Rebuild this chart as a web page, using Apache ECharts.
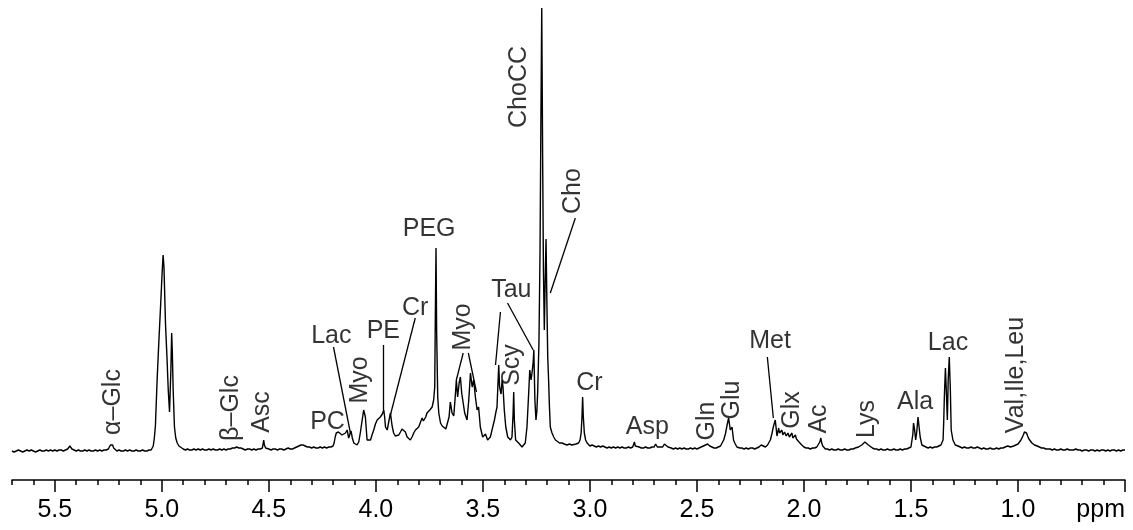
<!DOCTYPE html>
<html>
<head>
<meta charset="utf-8">
<script src="https://cdn.jsdelivr.net/npm/echarts@6/dist/echarts.min.js"></script>
<style>html,body{margin:0;padding:0;background:#fff}#c{width:1133px;height:530px}</style>
</head>
<body>
<div id="c"></div>
<script>
// ---- data: [ppm, intensity above baseline] ----
const spectrum = [
[5.70,1],[5.69,0],[5.68,1],[5.67,2],[5.66,1],[5.65,0],[5.64,1],[5.63,2],[5.62,1],[5.61,2],[5.60,1],[5.59,0],[5.58,1],[5.57,2],[5.56,1],[5.55,1],[5.54,2],[5.53,1],[5.52,2],[5.51,1],[5.50,2],[5.49,1],[5.48,2],[5.47,2],[5.46,1],[5.45,2],[5.44,3],[5.435,5],[5.43,6],[5.425,5],[5.42,3],[5.41,2],[5.40,1],[5.39,2],[5.38,1],[5.37,1],[5.36,2],[5.35,1],[5.34,2],[5.33,1],[5.32,1],[5.31,2],[5.30,1],[5.29,2],[5.28,1],[5.27,2],[5.26,2],[5.25,3],[5.245,5],[5.24,7],[5.235,5],[5.23,7],[5.225,4],[5.22,2],[5.21,1],[5.20,2],[5.19,1],[5.18,1],[5.17,2],[5.16,1],[5.15,2],[5.14,1],[5.13,1],[5.12,2],[5.11,1],[5.10,1],[5.09,2],[5.08,1],[5.07,1],[5.06,2],[5.05,2],[5.045,4],[5.04,6],[5.035,14],[5.03,26],[5.022,72],[5.014,110],[5.006,145],[4.998,182],[4.994,197],[4.990,185],[4.983,129],[4.976,95],[4.970,62],[4.964,40],[4.958,80],[4.954,119],[4.951,100],[4.947,62],[4.941,25],[4.935,14],[4.928,9],[4.92,6],[4.913,4],[4.90,3],[4.89,2],[4.88,3],[4.87,2],
[4.86,2],[4.85,3],[4.84,2],[4.83,3],[4.82,2],[4.81,3],[4.80,2],[4.79,2],[4.78,3],[4.77,2],[4.76,3],[4.75,2],[4.74,2],[4.73,3],[4.72,2],[4.71,3],[4.70,2],[4.69,3],[4.68,3],[4.67,4],[4.665,6],[4.66,4],[4.655,6],[4.65,5],[4.645,7],[4.64,4],[4.635,3],[4.63,4],[4.62,3],[4.61,2],[4.60,3],[4.59,3],[4.58,2],[4.57,3],[4.56,2],[4.55,3],[4.54,3],[4.53,4],[4.527,8],[4.524,12],[4.521,7],[4.515,4],[4.51,3],[4.50,3],[4.49,2],[4.48,3],[4.47,3],[4.46,2],[4.45,3],[4.44,3],[4.43,2],[4.42,3],[4.41,4],[4.40,3],[4.39,3],[4.38,4],[4.37,5],[4.36,6],[4.35,7],[4.34,7],[4.33,6],[4.32,5],[4.31,5],[4.30,4],[4.29,5],[4.28,4],[4.27,4],[4.26,5],[4.25,4],[4.24,5],[4.23,4],[4.22,5],[4.21,5],[4.20,6],[4.195,9],[4.19,15],[4.185,19],[4.181,21],[4.175,20],[4.166,22],[4.158,17],[4.150,16],[4.142,19],[4.134,22],[4.127,14],[4.121,18],[4.116,21],[4.110,14],[4.103,9],[4.095,8],[4.088,7],[4.080,10],[4.072,20],[4.064,32],[4.057,42],[4.049,35],[4.041,12],[4.033,10],[4.025,12],[4.018,17],[4.010,22],[4.002,28],[3.994,32],[3.986,34],[3.979,35],[3.970,38],[3.963,42],[3.959,35],[3.955,25],[3.947,22],[3.940,30],[3.932,39],[3.924,26],[3.917,19],[3.909,16],[3.901,14],[3.893,17],[3.885,20],[3.878,23],[3.870,24],[3.862,20],[3.854,15],[3.846,13],[3.839,12],[3.831,15],[3.823,19],[3.815,22],[3.807,24],[3.800,25],[3.792,27],[3.784,34],[3.778,31],[3.773,29],[3.767,35],[3.761,39],[3.755,40],[3.748,42],[3.742,44],[3.737,45],[3.730,52],[3.725,65],[3.722,140],[3.719,204],[3.716,120],[3.711,55],[3.706,39],[3.698,29],[3.690,26],[3.683,24],[3.673,23],[3.664,22],[3.658,35],[3.652,50],[3.644,39],[3.636,36],[3.628,59],[3.624,72],[3.618,55],[3.611,69],[3.605,75],[3.599,59],[3.592,49],[3.585,39],[3.574,32],[3.566,52],[3.558,79],[3.550,65],[3.543,72],[3.535,55],[3.527,42],[3.520,45],[3.512,25],[3.501,15],[3.488,18],[3.478,12],[3.465,15],[3.454,25],[3.446,32],[3.440,39],[3.434,45],[3.426,87],[3.422,65],[3.415,58],[3.410,72],[3.406,65],[3.400,42],[3.393,25],[3.384,15],[3.371,12],[3.364,15],[3.359,38],[3.356,60],[3.353,32],[3.347,12],[3.340,10],[3.333,9],[3.325,7],[3.317,5],[3.310,7],[3.302,9],[3.294,25],[3.286,59],[3.281,82],[3.275,72],[3.270,80],[3.265,90],[3.262,102],[3.257,52],[3.252,32],[3.248,40],[3.244,60],[3.238,110],[3.233,200],[3.229,330],[3.225,444],[3.221,300],[3.217,180],[3.213,122],[3.209,170],[3.205,213],[3.201,150],[3.197,95],[3.193,72],[3.189,45],[3.185,25],[3.177,19],[3.169,15],[3.161,12],[3.153,10],[3.142,9],[3.130,9],[3.120,8],[3.107,7],[3.095,8],[3.085,7],[3.076,7],[3.065,8],[3.053,9],[3.046,12],[3.041,19],[3.037,35],[3.034,55],[3.031,36],[3.026,19],[3.020,12],[3.013,9],[3.005,7],[3.00,6],
[2.99,7],[2.98,6],[2.97,5],[2.96,6],[2.95,5],[2.94,6],[2.93,5],[2.92,4],[2.91,5],[2.90,4],[2.89,5],[2.88,4],[2.87,5],[2.86,4],[2.85,5],[2.84,4],[2.83,4],[2.82,5],[2.81,4],[2.80,5],[2.795,7],[2.792,10],[2.788,6],[2.78,4],[2.77,5],[2.76,4],[2.75,4],[2.74,5],[2.73,4],[2.72,4],[2.71,5],[2.70,5],[2.693,8],[2.689,9],[2.685,5],[2.68,4],[2.67,5],[2.66,5],[2.652,8],[2.648,9],[2.643,6],[2.635,5],[2.62,4],[2.61,3],[2.60,4],[2.59,3],[2.58,4],[2.57,3],[2.56,4],[2.55,3],[2.54,3],[2.53,4],[2.52,3],[2.51,4],[2.50,3],[2.49,4],[2.48,5],[2.47,6],[2.46,7],[2.455,6],[2.45,8],[2.44,6],[2.43,5],[2.42,4],[2.41,4],[2.40,5],[2.39,6],[2.383,8],[2.375,12],[2.367,18],[2.359,27],[2.352,34],[2.348,28],[2.344,22],[2.340,24],[2.336,25],[2.329,12],[2.321,8],[2.313,5],[2.30,4],[2.29,4],[2.28,3],[2.27,4],[2.26,3],[2.25,4],[2.24,4],[2.23,3],[2.22,4],[2.21,5],[2.20,7],[2.196,9],[2.19,6],[2.18,5],[2.17,7],[2.164,9],[2.157,12],[2.150,18],[2.142,26],[2.134,32],[2.130,24],[2.126,16],[2.122,20],[2.118,24],[2.114,19],[2.110,17],[2.106,21],[2.103,22],[2.099,17],[2.095,16],[2.091,20],[2.087,21],[2.083,16],[2.079,15],[2.075,19],[2.072,20],[2.068,15],[2.064,14],[2.060,17],[2.056,19],[2.052,14],[2.048,13],[2.044,15],[2.040,17],[2.035,13],[2.029,12],[2.023,10],[2.017,9],[2.010,7],[2.00,5],[1.99,4],[1.98,4],[1.97,3],[1.96,4],[1.95,4],[1.94,5],[1.932,7],[1.926,10],[1.921,14],[1.917,9],[1.912,6],[1.905,4],[1.90,3],
[1.89,3],[1.88,2],[1.87,3],[1.86,2],[1.85,2],[1.84,3],[1.83,2],[1.82,2],[1.81,3],[1.80,2],[1.79,2],[1.78,3],[1.77,3],[1.76,4],[1.753,4],[1.745,5],[1.738,6],[1.730,7],[1.722,9],[1.715,10],[1.707,9],[1.699,7],[1.69,5],[1.68,4],[1.67,3],[1.66,3],[1.65,2],[1.64,3],[1.63,2],[1.62,2],[1.61,3],[1.60,2],[1.59,2],[1.58,3],[1.57,2],[1.56,2],[1.55,3],[1.54,2],[1.53,3],[1.52,3],[1.51,4],[1.50,5],[1.494,7],[1.491,18],[1.488,29],[1.484,24],[1.478,12],[1.473,20],[1.467,35],[1.462,25],[1.457,15],[1.449,7],[1.44,5],[1.43,5],[1.42,4],[1.41,5],[1.40,4],[1.39,5],[1.38,5],[1.37,6],[1.360,7],[1.350,12],[1.347,30],[1.344,55],[1.339,84],[1.335,62],[1.330,32],[1.326,72],[1.321,95],[1.316,62],[1.312,22],[1.304,12],[1.293,7],[1.28,6],[1.270,5],[1.26,4],[1.25,5],[1.24,4],[1.23,4],[1.22,5],[1.21,4],[1.20,4],[1.19,5],[1.18,4],[1.17,3],[1.16,4],[1.15,3],[1.14,3],[1.13,4],[1.12,3],[1.11,3],[1.10,4],[1.09,3],[1.08,4],[1.07,4],[1.06,5],[1.055,5],[1.048,6],[1.041,7],[1.035,5],[1.028,5],[1.020,6],[1.010,7],[1.000,8],[0.994,9],[0.986,12],[0.980,14],[0.975,17],[0.970,20],[0.965,22],[0.960,19],[0.955,16],[0.949,13],[0.943,11],[0.935,9],[0.923,7],[0.91,6],[0.90,5],[0.89,4],[0.88,4],[0.87,3],[0.86,3],[0.85,3],[0.84,2],[0.83,3],[0.82,2],[0.81,2],[0.80,3],[0.79,2],[0.78,2],[0.77,3],[0.76,2],[0.75,2],[0.74,2],[0.73,3],[0.72,2],[0.71,2],[0.70,1],[0.69,2],[0.68,2],[0.67,1],[0.66,2],[0.65,2],[0.64,1],[0.63,2],[0.62,1],[0.61,2],[0.60,2],[0.59,1],[0.58,2],[0.57,1],[0.56,2],[0.55,2],[0.54,1],[0.53,2],[0.52,1],[0.51,2],[0.50,2]
];

const majorTicks = [5.5, 5.0, 4.5, 4.0, 3.5, 3.0, 2.5, 2.0, 1.5, 1.0, 0.5];
const minorTicks = [5.7, 5.6, 5.4, 5.3, 5.2, 5.1, 4.9, 4.8, 4.7, 4.6, 4.4, 4.3, 4.2, 4.1, 3.9, 3.8, 3.7, 3.6, 3.4, 3.3, 3.2, 3.1, 2.9, 2.8, 2.7, 2.6, 2.4, 2.3, 2.2, 2.1, 1.9, 1.8, 1.7, 1.6, 1.4, 1.3, 1.2, 1.1, 0.9, 0.8, 0.7, 0.6];
const tickLabels = [5.5, 5.0, 4.5, 4.0, 3.5, 3.0, 2.5, 2.0, 1.5, 1.0, 0.5];
const unitLabel = 'ppm';

// annotations: name, ppm and height of label centre, vertical text flag
const annoNames = ['α–Glc','β–Glc','Asc','PC','Lac','Myo','PE','Cr','PEG','Myo','Tau','Scy','ChoCC','Cho','Cr','Asp','Gln','Glu','Met','Glx','Ac','Lys','Ala','Lac','Val,Ile,Leu'];
const annoPpm = [5.226,4.675,4.530,4.226,4.208,4.072,3.965,3.816,3.751,3.593,3.367,3.362,3.330,3.077,3.002,2.732,2.452,2.335,2.158,2.055,1.929,1.705,1.481,1.327,1.009];
const annoHeight = [50,44,40,30,116,72,121,144,223,125,162,87,365,261,69,25,31,52,111,42,33,33,50,109,77];
const annoVertical = [1,1,1,0,0,1,0,0,0,1,0,1,1,1,0,0,1,1,0,1,1,1,0,0,1];

// leader lines: [ppm, height] start and end
const leaderFrom = [[4.198,105],[3.965,107],[3.816,134],[3.592,99],[3.568,99],[3.418,140],[3.385,149],[3.068,234],[2.171,95]];
const leaderTo = [[4.119,19],[3.965,42],[3.932,37],[3.624,72],[3.530,60],[3.441,87],[3.265,102],[3.185,159],[2.143,34]];

const FONT = 'Liberation Sans, Arial, Helvetica, sans-serif';
const chart = echarts.init(document.getElementById('c'), null, {renderer: 'canvas'});

const annoData = annoNames.map((n, i) => ({
  value: [annoPpm[i], annoHeight[i]],
  name: n,
  label: { rotate: annoVertical[i] ? 90 : 0 }
}));
const leaderData = leaderFrom.map((f, i) => ({ coords: [f, leaderTo[i]] }));

chart.setOption({
  animation: false,
  backgroundColor: '#ffffff',
  grid: { left: 12, right: 8, top: 8, bottom: 50, containLabel: false },
  xAxis: [{
    type: 'value', min: 0.5, max: 5.7, inverse: true, position: 'bottom',
    axisLine: { show: true, onZero: false, lineStyle: { color: '#000', width: 1.5 } },
    axisTick: { show: true, customValues: majorTicks, length: 12, lineStyle: { color: '#000', width: 1.5 } },
    axisLabel: {
      show: true, customValues: tickLabels, margin: 18, color: '#000', fontSize: 25, fontFamily: FONT,
      formatter: v => (Math.abs(v - 0.5) < 1e-6 ? unitLabel : v.toFixed(1)),
      alignMaxLabel: 'right'
    },
    splitLine: { show: false }
  }, {
    type: 'value', min: 0.5, max: 5.7, inverse: true, position: 'bottom', offset: 0,
    axisLine: { show: false, onZero: false },
    axisTick: { show: true, customValues: minorTicks, length: 5, lineStyle: { color: '#000', width: 1.5 } },
    axisLabel: { show: false },
    splitLine: { show: false }
  }],
  yAxis: { type: 'value', min: -28, max: 444, show: false },
  series: [{
    type: 'line', data: spectrum, showSymbol: false, symbol: 'none', smooth: false,
    lineStyle: { color: '#000', width: 1.4 }, clip: false, z: 3
  }, {
    type: 'scatter', data: annoData, symbolSize: 0, z: 5,
    label: {
      show: true, position: 'inside', formatter: p => p.name,
      color: '#000', fontSize: 25, fontFamily: FONT, align: 'center', verticalAlign: 'middle'
    },
    emphasis: { disabled: true }
  }, {
    type: 'lines', coordinateSystem: 'cartesian2d', data: leaderData, z: 4,
    lineStyle: { color: '#000', width: 1.3, opacity: 1 }, symbol: 'none'
  }]
});
</script>
</body>
</html>
